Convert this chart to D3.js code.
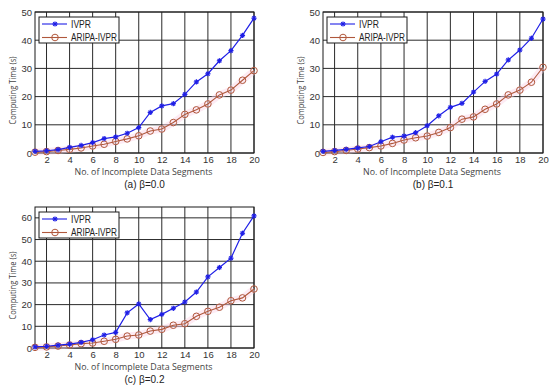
<!DOCTYPE html>
<html>
<head>
<meta charset="utf-8">
<script src="https://cdn.jsdelivr.net/npm/d3@7"></script>
<style>
  body { margin: 0; background: #fff; }
  svg { font-family: "Liberation Sans", Arial, sans-serif; }
  .grid line { stroke: #2a2a2a; stroke-width: 1; }
  .tick text { font-size: 9.5px; fill: #333; font-family: "Liberation Sans", Arial, sans-serif; }
  .axtitle { font-family: "Open Sans", "Noto Sans", sans-serif; }
</style>
</head>
<body>
<script>
var segments = d3.range(1, 21);
var xTicks = [2, 4, 6, 8, 10, 12, 14, 16, 18, 20];
var seriesNames = ["IVPR", "ARIPA-IVPR"];

var ivprA  = [0.6, 0.8, 1.2, 2.0, 2.7, 3.7, 5.1, 5.7, 7.0, 9.0, 14.4, 16.7, 17.5, 20.8, 25.2, 28.1, 32.7, 36.3, 41.7, 47.8];
var aripaA = [0.3, 0.5, 0.9, 1.3, 1.8, 2.5, 3.1, 4.1, 5.0, 6.1, 7.8, 8.5, 10.8, 13.7, 15.3, 17.4, 20.6, 22.3, 25.8, 29.2];

var ivprB  = [0.6, 0.9, 1.3, 1.8, 2.3, 4.0, 5.6, 6.0, 7.2, 9.7, 13.2, 16.2, 17.6, 21.6, 25.4, 28.0, 33.0, 36.5, 40.7, 47.5];
var aripaB = [0.2, 0.5, 0.9, 1.4, 1.9, 2.5, 3.4, 4.6, 5.4, 6.0, 7.3, 9.0, 12.0, 12.8, 15.5, 17.4, 20.6, 22.3, 25.1, 30.4];

var ivprC  = [0.5, 0.8, 1.3, 1.8, 2.6, 3.8, 6.0, 7.2, 16.2, 20.3, 13.1, 15.5, 18.3, 21.2, 25.8, 32.8, 37.1, 41.4, 52.9, 60.9];
var aripaC = [0.3, 0.5, 0.9, 1.4, 2.0, 2.3, 3.1, 4.0, 5.5, 6.0, 7.8, 8.6, 10.5, 11.2, 14.6, 16.9, 18.8, 21.8, 23.1, 27.2];

var yTicksAB = [0, 10, 20, 30, 40, 50];
var yTicksC  = [0, 10, 20, 30, 40, 50, 60];

var blue = "#1f1fe6", brown = "#b0583c";

var svg = d3.select("body").append("svg").attr("width", 550).attr("height", 390);

var panels = [
  {x0: 35,  x1: 254, y0: 12,  y1: 153, yMax: 50, ticks: yTicksAB, ivpr: ivprA, aripa: aripaA, caption: "(a) \u03b2=0.0"},
  {x0: 323, x1: 543, y0: 12,  y1: 153, yMax: 50, ticks: yTicksAB, ivpr: ivprB, aripa: aripaB, caption: "(b) \u03b2=0.1"},
  {x0: 35,  x1: 254, y0: 207, y1: 348, yMax: 65, ticks: yTicksC,  ivpr: ivprC, aripa: aripaC, caption: "(c) \u03b2=0.2"}
];

panels.forEach(drawPanel);

function asterisk(g, r) {
  g.append("line").attr("x1", -r).attr("x2", r).attr("y1", 0).attr("y2", 0);
  g.append("line").attr("x1", 0).attr("x2", 0).attr("y1", -r).attr("y2", r);
  g.append("line").attr("x1", -r*0.7).attr("x2", r*0.7).attr("y1", -r*0.7).attr("y2", r*0.7);
  g.append("line").attr("x1", -r*0.7).attr("x2", r*0.7).attr("y1", r*0.7).attr("y2", -r*0.7);
}

function drawPanel(p) {
  var x = d3.scaleLinear().domain([1, 20]).range([p.x0, p.x1]);
  var y = d3.scaleLinear().domain([0, p.yMax]).range([p.y1, p.y0]);
  var g = svg.append("g");

  // grid
  var grid = g.append("g").attr("class", "grid");
  grid.selectAll(".v").data(xTicks).enter().append("line")
    .attr("x1", d => x(d)).attr("x2", d => x(d)).attr("y1", p.y0).attr("y2", p.y1);
  grid.selectAll(".h").data(p.ticks).enter().append("line")
    .attr("x1", p.x0).attr("x2", p.x1).attr("y1", d => y(d)).attr("y2", d => y(d));

  // axes
  var xa = g.append("g").attr("transform", "translate(0," + p.y1 + ")")
    .call(d3.axisBottom(x).tickValues(xTicks).tickSize(0).tickPadding(3));
  xa.select(".domain").remove();
  var ya = g.append("g").attr("transform", "translate(" + p.x0 + ",0)")
    .call(d3.axisLeft(y).tickValues(p.ticks).tickSize(0).tickPadding(3));
  ya.select(".domain").remove();

  g.append("rect").attr("x", p.x0).attr("y", p.y0)
    .attr("width", p.x1 - p.x0).attr("height", p.y1 - p.y0)
    .attr("fill", "none").attr("stroke", "#1a1a1a").attr("stroke-width", 1);

  var line = d3.line().x((d, i) => x(segments[i])).y(d => y(d));

  // faint pink halo under ARIPA-IVPR
  g.append("path").datum(p.aripa).attr("d", line)
    .attr("fill", "none").attr("stroke", "#fbd3e6").attr("stroke-width", 7).attr("opacity", 0.45);

  g.append("path").datum(p.aripa).attr("d", line)
    .attr("fill", "none").attr("stroke", brown).attr("stroke-width", 1.1);
  g.selectAll(".c").data(p.aripa).enter().append("circle")
    .attr("cx", (d, i) => x(segments[i])).attr("cy", d => y(d)).attr("r", 3.3)
    .attr("fill", "none").attr("stroke", brown).attr("stroke-width", 1);

  g.append("path").datum(p.ivpr).attr("d", line)
    .attr("fill", "none").attr("stroke", blue).attr("stroke-width", 1.2);
  g.selectAll(".s").data(p.ivpr).enter().append("g")
    .attr("transform", (d, i) => "translate(" + x(segments[i]) + "," + y(d) + ")")
    .attr("stroke", blue).attr("stroke-width", 1.2)
    .each(function() { asterisk(d3.select(this), 2.6); });

  // legend
  var lx = p.x0 + 4, ly = p.y0 + 5;
  var lg = g.append("g");
  lg.append("rect").attr("x", lx).attr("y", ly).attr("width", 80).attr("height", 26)
    .attr("fill", "#fff").attr("stroke", "#1a1a1a").attr("stroke-width", 1);
  var legendWidths = [20, 46];
  seriesNames.forEach(function(name, i) {
    var yy = ly + 7 + i * 13.5;
    var col = i == 0 ? blue : brown;
    lg.append("line").attr("x1", lx + 3).attr("x2", lx + 28).attr("y1", yy).attr("y2", yy)
      .attr("stroke", col).attr("stroke-width", 1.1);
    if (i == 0) {
      var m = lg.append("g").attr("transform", "translate(" + (lx + 16) + "," + yy + ")")
        .attr("stroke", blue).attr("stroke-width", 1.2);
      asterisk(m, 2.6);
    } else {
      lg.append("circle").attr("cx", lx + 16).attr("cy", yy).attr("r", 3.3)
        .attr("fill", "none").attr("stroke", brown);
    }
    lg.append("text").attr("x", lx + 32).attr("y", yy + 3.5)
      .attr("font-size", "10px").attr("fill", "#222")
      .attr("textLength", legendWidths[i]).attr("lengthAdjust", "spacingAndGlyphs")
      .text(name);
  });

  // titles
  var cx = (p.x0 + p.x1) / 2;
  g.append("text").attr("class", "axtitle").attr("x", cx - 1).attr("y", p.y1 + 22).attr("text-anchor", "middle")
    .attr("font-size", "9.5px").attr("fill", "#444")
    .attr("textLength", 138).attr("lengthAdjust", "spacingAndGlyphs")
    .text("No. of Incomplete Data Segments");
  g.append("text").attr("x", cx).attr("y", p.y1 + 35).attr("text-anchor", "middle")
    .attr("font-size", "10px").attr("fill", "#222").text(p.caption);
  g.append("text").attr("class", "axtitle")
    .attr("transform", "translate(" + (p.x0 - 19) + "," + ((p.y0 + p.y1) / 2 + 8) + ") rotate(-90)")
    .attr("text-anchor", "middle").attr("font-size", "9px").attr("fill", "#444")
    .attr("textLength", 68).attr("lengthAdjust", "spacingAndGlyphs")
    .text("Computing Time (s)");
}
</script>
</body>
</html>
